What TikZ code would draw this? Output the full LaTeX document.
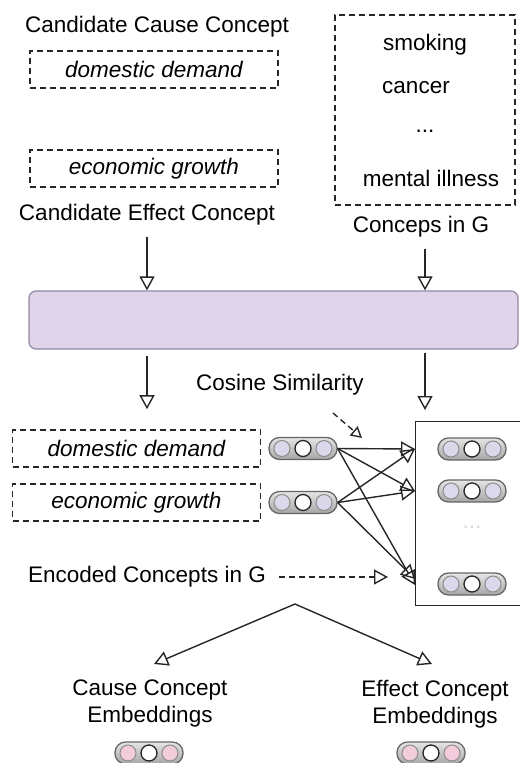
\documentclass[tikz,border=0pt]{standalone}
\usepackage{fontspec}
\setmainfont{Liberation Sans}
\usetikzlibrary{arrows.meta,calc}

\definecolor{barfill}{HTML}{E0D4EA}
\definecolor{barline}{HTML}{9486A6}
\definecolor{dotblue}{HTML}{DAD8EA}
\definecolor{dotpink}{HTML}{F3CCDB}

% three dots of an embedding vector, drawn inside a pill
\newcommand\pilldots[1]{%
  \foreach \dx in {-21,21}{%
    \filldraw[fill=#1,draw=black!45,line width=1pt]
      ($(path picture bounding box.center)+(\dx,0)$) circle (8pt);}
  \filldraw[fill=white,draw=black!85,line width=1.3pt]
    (path picture bounding box.center) circle (8pt);}

\tikzset{
  lbl/.style={font=\fontsize{22.5}{27}\selectfont, inner sep=1pt},
  dbox/.style={draw=black!85, dash pattern=on 6pt off 4pt, line width=1.6pt,
    minimum width=248pt, minimum height=37pt, inner sep=0pt,
    font=\fontsize{22.5}{27}\selectfont\itshape},
  arr/.style={-{Triangle[open,length=14pt,width=15pt]}, line width=1.4pt, draw=black!85},
  darr/.style={arr, dash pattern=on 6pt off 4pt},
  pill/.style={rounded corners=10.5pt, minimum width=68pt, minimum height=22pt,
    inner sep=0pt, top color=black!10, bottom color=black!35,
    draw=black!60, line width=1.3pt, path picture={\pilldots{#1}}},
}

\begin{document}
\begin{tikzpicture}[x=1pt,y=-1pt]
\useasboundingbox (0,0) rectangle (520,763);
\clip (0,0) rectangle (520,763);

% candidate concepts
\node[lbl] (causeLbl) at (157,27) {Candidate Cause Concept};
\node[dbox] (dd1) at (154,69.5) {domestic demand};
\node[dbox] (eg1) at (154,168.5) {economic growth};
\node[lbl] (effLbl) at (147,215) {Candidate Effect Concept};

% concepts of the graph
\node[dbox, minimum width=180pt, minimum height=190pt] (gbox) at (425,110) {};
\node[lbl] (g1) at (425,45) {smoking};
\node[lbl] (g2) at (416,88) {cancer};
\node[lbl] (g3) at (425,131) {...};
\node[lbl] (g4) at (431,178) {mental illness};
\node[lbl] (gLbl) at (421,227) {Conceps in G};

% encoder
\node[draw=barline, fill=barfill, rounded corners=7pt, line width=1.2pt,
      minimum width=489pt, minimum height=58pt] (bar) at (273.5,320) {};

\draw[arr, shorten <=10pt] (effLbl.south) -- (effLbl.south |- bar.north);
\draw[arr, shorten <=10pt] (gLbl.south -| gbox.center) -- (bar.north -| gbox.center);

\node[lbl] (cosLbl) at (280,385) {Cosine Similarity};

% encoded candidates
\node[dbox] (dd2) at (136.5,448.5) {domestic demand};
\node[dbox] (eg2) at (136.5,502.5) {economic growth};
\node[pill=dotblue] (p1) at (303,448.5) {};
\node[pill=dotblue] (p2) at (303,502.5) {};

% encoded graph concepts
\node[draw=black!85, line width=1.3pt, minimum width=125pt, minimum height=184pt,
      anchor=north west, inner sep=0pt] (rbox) at (415,421) {};
\node[pill=dotblue] (q1) at (472,449) {};
\node[pill=dotblue] (q2) at (472,491) {};
\node[lbl, text=black!15] (qdots) at (472,527) {...};
\node[pill=dotblue] (q3) at (472,584) {};

\draw[arr, shorten <=6pt, shorten >=20pt] (bar.south -| effLbl.south) -- (dd2.north -| effLbl.south);
\draw[arr, shorten <=3pt, shorten >=11pt] (bar.south -| gbox.center) -- (rbox.north -| gbox.center);

\coordinate (cosA) at (333,413);
\coordinate (cosB) at (362,438);
\draw[darr, -{Triangle[open,length=11pt,width=12pt]}] (cosA) -- (cosB);

\foreach \s in {p1,p2}{
  \foreach \t in {q1,q2}{
    \draw[arr] (\s.east) -- (rbox.west |- \t);}}
\draw[arr] (p1.east) -- ($(rbox.west |- q3)+(0,1)$);
\draw[arr] (p2.east) -- ($(rbox.west |- q3)+(0,-5)$);

\node[lbl] (encLbl) at (147,577) {Encoded Concepts in G};
\draw[darr, shorten <=12pt, shorten >=27pt] (encLbl.east) -- (rbox.west |- encLbl);

% split into cause and effect embeddings
\coordinate (split) at (295,604);
\node[lbl, align=center, anchor=north] (causeEmb) at (150,679) {Cause Concept\\Embeddings};
\node[lbl, align=center, anchor=north] (effEmb) at (435,679) {Effect Concept\\Embeddings};
\draw[arr] (split) -- ($(causeEmb.north)+(4,-15)$);
\draw[arr] (split) -- ($(effEmb.north)+(-3,-15)$);

\node[pill=dotpink] (cVec) at (149,753) {};
\node[pill=dotpink] (eVec) at (431,753) {};
\end{tikzpicture}
\end{document}
